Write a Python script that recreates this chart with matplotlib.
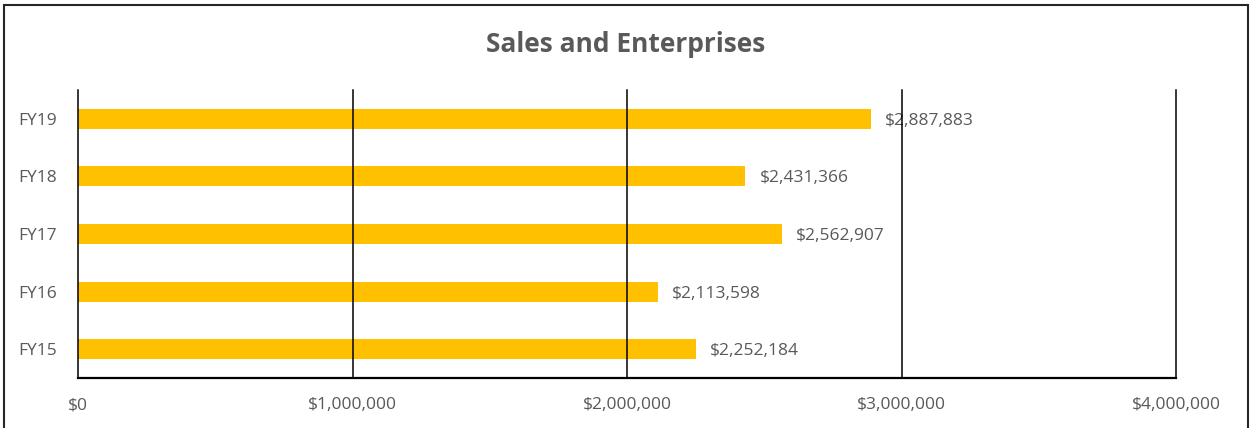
import matplotlib
matplotlib.use("Agg")
import matplotlib.pyplot as plt
from matplotlib.patches import Rectangle
from matplotlib.ticker import FuncFormatter

categories = ["FY15", "FY16", "FY17", "FY18", "FY19"]
sales = [2252184, 2113598, 2562907, 2431366, 2887883]
x_ticks = [0, 1000000, 2000000, 3000000, 4000000]

TEXT = "#595959"
BAR = "#FFC000"
plt.rcParams["font.family"] = ["Open Sans", "DejaVu Sans"]

fig = plt.figure(figsize=(12.51, 4.28), dpi=100)
W, H = 1251, 428
ax = fig.add_axes([78 / W, 50 / H, (1176 - 78) / W, (378 - 90) / H])

y = list(range(len(categories)))
ax.barh(y, sales, height=0.35, color=BAR, zorder=2)
for yi, v in zip(y, sales):
    ax.annotate(f"${v:,.0f}", (v, yi), xytext=(14, 0), textcoords="offset pixels",
                va="center_baseline", ha="left", color=TEXT, fontsize=12.5, zorder=1)

ax.set_xlim(0, 4000000)
ax.set_ylim(-0.5, len(categories) - 0.5)
ax.set_xticks(x_ticks)
ax.xaxis.set_major_formatter(FuncFormatter(lambda v, p: f"${v:,.0f}"))
ax.set_yticks(y)
ax.set_yticklabels(categories)
ax.tick_params(axis="both", length=0, labelcolor=TEXT, labelsize=12.5)
ax.tick_params(axis="x", pad=14)
ax.tick_params(axis="y", pad=15)

for s in ["top", "right", "left"]:
    ax.spines[s].set_visible(False)
ax.spines["bottom"].set_linewidth(1.6)
ax.spines["bottom"].set_color("black")
ax.grid(axis="x", color="black", linewidth=1.1, zorder=3)
ax.set_axisbelow(False)
for gl in ax.get_xgridlines():
    gl.set_clip_on(False)

fig.text(626 / W, 1 - 44 / H, "Sales and Enterprises", ha="center", va="center",
         fontsize=19, fontweight="bold", color=TEXT)

# outer chart frame, open at the bottom edge of the canvas
fig.patches.append(Rectangle((3.5 / W, -0.05), (1248 - 3.5) / W, 1.05 - 5.5 / H,
                             transform=fig.transFigure, fill=False,
                             edgecolor="#262626", linewidth=1.5, clip_on=False))

fig.savefig("out.png", dpi=100, facecolor="white")
